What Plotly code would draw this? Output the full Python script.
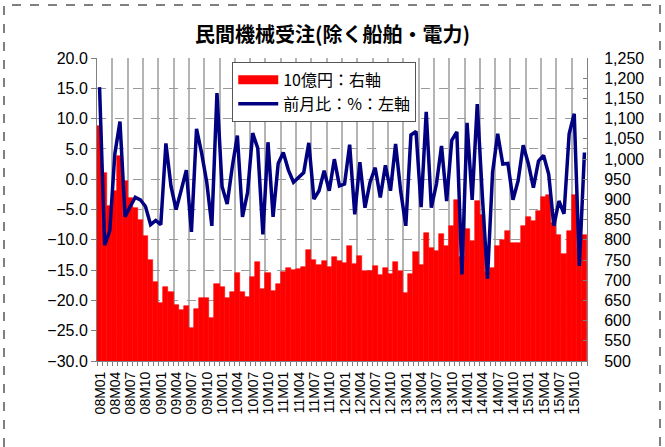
import plotly.graph_objects as go

# monthly categories 08M01 .. 15M12
years = ["08", "09", "10", "11", "12", "13", "14", "15"]
months = [f"{y}M{m:02d}" for y in years for m in range(1, 13)]

# orders, billion yen (right axis)
orders = [
    1082, 966, 883, 920, 1007, 945, 904, 878, 848, 810, 749, 696,
    643, 682, 671, 639, 627, 635, 581, 629, 657, 656, 606, 691,
    684, 656, 670, 718, 672, 658, 707, 744, 677, 718, 674, 690,
    721, 731, 726, 728, 733, 776, 751, 737, 747, 733, 757, 748,
    742, 784, 739, 760, 724, 722, 736, 714, 729, 716, 744, 723,
    668, 716, 771, 737, 818, 780, 772, 814, 785, 834, 898, 757,
    826, 797, 895, 862, 721, 730, 784, 800, 821, 792, 792, 834,
    857, 846, 871, 905, 911, 842, 812, 766, 823, 910, 780, 812,
]

# month-on-month change, % (left axis)
mom = [
    15.2, -10.9, -8.5, 4.2, 9.5, -6.2, -4.5, -3.0, -3.4, -4.5, -7.5, -6.8,
    -7.5, 5.9, -1.2, -5.0, -1.8, 1.5, -8.7, 8.3, 4.3, -0.5, -7.7, 14.2,
    -1.2, -4.1, 2.0, 7.2, -6.2, -2.2, 7.6, 5.1, -9.1, 6.1, -6.2, 2.6,
    4.4, 1.5, -0.5, 0.3, 1.1, 6.0, -3.3, -1.9, 1.4, -1.9, 3.3, -1.1,
    -0.8, 5.7, -5.8, 2.8, -4.7, -0.5, 1.9, -3.0, 2.3, -1.9, 5.8, -2.0,
    -7.7, 7.3, 7.9, -4.6, 11.1, -4.7, -0.8, 5.5, -3.6, 6.4, 7.8, -15.7,
    9.3, -3.4, 12.4, -2.8, -16.4, 1.1, 7.5, 2.5, 2.6, -3.4, -0.3, 5.6,
    2.6, -1.4, 3.0, 3.9, 0.8, -7.7, -3.6, -5.7, 7.5, 10.8, -14.3, 4.4,
]

idx = list(range(len(months)))
label_pos = [i - 0.5 for i in idx[::3]]
label_txt = months[::3]

NUM_FONT = "Liberation Sans, Arial, sans-serif"
JP_FONT = "Noto Sans CJK JP, sans-serif"
AXIS = "#808080"

fig = go.Figure()
fig.add_bar(
    x=idx, y=orders,
    marker={"color": "#FF0000", "line": {"color": "#FF0000", "width": 0.6}},
    showlegend=False, yaxis="y",
)
# legend entry drawn as a wide red swatch, like the original
fig.add_scatter(
    x=[None], y=[None], mode="lines", name="10億円：右軸",
    line={"color": "#FF0000", "width": 9}, yaxis="y",
)
fig.add_scatter(
    x=idx, y=mom, mode="lines", name="前月比：%：左軸",
    line={"color": "#000080", "width": 3.5}, yaxis="y2",
)

fig.update_layout(
    width=665, height=447,
    margin={"l": 97, "r": 78, "t": 58, "b": 86},
    paper_bgcolor="white", plot_bgcolor="white",
    bargap=0,
    title={
        "text": "<b>民間機械受注(除く船舶・電力)</b>",
        "font": {"family": JP_FONT, "size": 20, "color": "black"},
        "x": 0.5, "xanchor": "center", "y": 0.922, "yanchor": "middle",
    },
    xaxis={
        "range": [-0.5, len(months) - 0.5],
        "tickmode": "array", "tickvals": label_pos, "ticktext": label_txt,
        "tickangle": -90, "ticklabelshift": 3,
        "ticks": "outside", "ticklen": 4, "tickcolor": AXIS,
        "showgrid": True, "gridcolor": "#b4b4b4", "gridwidth": 1.5,
        "showline": True, "linecolor": AXIS, "linewidth": 1,
        "minor": {"tick0": -0.5, "dtick": 1, "ticks": "outside", "ticklen": 4,
                  "tickcolor": AXIS, "showgrid": False},
        "tickfont": {"family": NUM_FONT, "size": 14, "color": "black"},
        "zeroline": False,
    },
    yaxis={
        "side": "right", "range": [500, 1250], "dtick": 50, "tick0": 500,
        "tickformat": ",d", "showgrid": False, "zeroline": False,
        "ticks": "inside", "ticklen": 4, "tickcolor": AXIS,
        "showline": True, "linecolor": AXIS, "linewidth": 1,
        "ticklabelstandoff": 13,
        "tickfont": {"family": NUM_FONT, "size": 16, "color": "black"},
    },
    yaxis2={
        "overlaying": "y", "side": "left", "range": [-30, 20], "dtick": 5,
        "tick0": -30, "tickformat": ".1f",
        "showgrid": True, "gridcolor": "#9a9a9a", "griddash": "dash", "gridwidth": 1,
        "zeroline": False, "ticks": "outside", "ticklen": 5, "tickcolor": AXIS,
        "showline": True, "linecolor": AXIS, "linewidth": 1,
        "tickfont": {"family": NUM_FONT, "size": 16, "color": "black"},
    },
    legend={
        "x": 0.276, "xanchor": "left", "y": 0.987, "yanchor": "top",
        "bgcolor": "white", "bordercolor": "#555555", "borderwidth": 1,
        "font": {"family": JP_FONT, "size": 16, "color": "black"},
        "tracegroupgap": 0, "itemwidth": 40,
    },
    shapes=[{
        "type": "rect", "xref": "paper", "yref": "paper",
        "x0": -93 / 490, "x1": 563 / 490, "y0": -95 / 303, "y1": 1 + 53 / 303,
        "line": {"color": "black", "width": 1, "dash": "dash"},
        "fillcolor": "rgba(0,0,0,0)", "layer": "below",
    }],
)

# drop the browser's default page margin so the figure sits at the corner
fig.write_html(
    "out.html",
    config={"displayModeBar": False},
    post_script="document.body.style.margin = '0';",
)
